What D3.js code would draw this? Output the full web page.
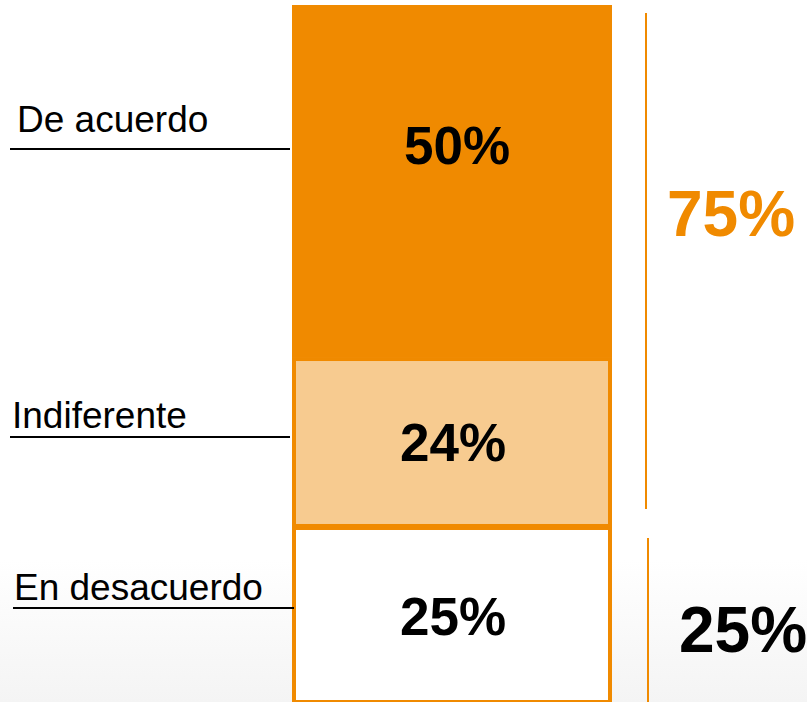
<!DOCTYPE html>
<html>
<head>
<meta charset="utf-8">
<script src="https://cdn.jsdelivr.net/npm/d3@7/dist/d3.min.js"></script>
<style>
  html, body { margin: 0; padding: 0; background: #fff; }
  svg { display: block; }
</style>
</head>
<body>
<div id="chart"></div>
<script>
// data, bottom to top
var categories = ["En desacuerdo", "Indiferente", "De acuerdo"];
var values = [25, 24, 50];
var groupLabels = ["25%", "75%"];
var groupRanges = [[0, 25], [25, 99]];

var W = 807, H = 702;
var orange = "#F08A00", light = "#F7CB90";
var fills = ["#ffffff", light, orange];

var svg = d3.select("#chart").append("svg")
    .attr("width", W)
    .attr("height", H)
    .style("font-family", "'Liberation Sans', Arial, sans-serif");

// faint grey fade at the bottom
var grad = svg.append("defs").append("linearGradient")
    .attr("id", "fade").attr("x1", 0).attr("y1", 0).attr("x2", 0).attr("y2", 1);
grad.append("stop").attr("offset", "0").attr("stop-color", "#ffffff");
grad.append("stop").attr("offset", "1").attr("stop-color", "#f4f4f4");
svg.append("rect").attr("x", 0).attr("y", 560).attr("width", W).attr("height", H - 560)
    .attr("fill", "url(#fade)");

var y = d3.scaleLinear().domain([0, 99]).range([H, 5]);
var x = d3.scaleBand().domain(["bar"]).range([292, 612]);

// stacked segments
var stacked = [];
var acc = 0;
values.forEach(function(v, i) {
    stacked.push({ cat: categories[i], v: v, y0: acc, y1: acc + v, i: i });
    acc += v;
});

svg.selectAll("rect.seg").data(stacked).enter().append("rect")
    .attr("class", "seg")
    .attr("x", function(d) { return d.i == 2 ? x("bar") : x("bar") + 2; })
    .attr("width", function(d) { return d.i == 2 ? x.bandwidth() : x.bandwidth() - 4; })
    .attr("y", function(d) { return d.i == 2 ? y(d.y1) : y(d.y1) + 2; })
    .attr("height", function(d) { return d.i == 2 ? y(d.y0) - y(d.y1) : y(d.y0) - y(d.y1) - 2; })
    .attr("fill", function(d) { return fills[d.i]; })
    .attr("stroke", orange)
    .attr("stroke-width", function(d) { return d.i == 2 ? 0 : 4; });

// value labels inside the bar
var valueShift = [21, 19, 0];
svg.selectAll("text.val").data(stacked).enter().append("text")
    .attr("class", "val")
    .attr("x", function(d) { return x("bar") + x.bandwidth() / 2 + (d.i == 2 ? 5 : 1); })
    .attr("y", function(d) {
        if (d.i == 2) return y(d.y1) + 159;
        return (y(d.y0) + y(d.y1)) / 2 + valueShift[d.i];
    })
    .attr("text-anchor", "middle")
    .attr("font-weight", "bold")
    .attr("font-size", 53)
    .attr("fill", "#000")
    .text(function(d) { return d.v + "%"; });

// category labels with underline on the left
var labelX = [14, 12, 17];
var lineX = [[13, 294], [10, 290], [10, 290]];
var lineOff = [82, 80, 144];
var textGap = [8, 9, 17];
stacked.forEach(function(d) {
    var ly = y(d.y1) + lineOff[d.i];
    svg.append("line")
        .attr("x1", lineX[d.i][0]).attr("x2", lineX[d.i][1])
        .attr("y1", ly).attr("y2", ly)
        .attr("stroke", "#000").attr("stroke-width", 2);
    svg.append("text")
        .attr("x", labelX[d.i])
        .attr("y", ly - textGap[d.i])
        .attr("font-size", 37)
        .attr("fill", "#000")
        .text(d.cat);
});

// brackets on the right
var brX = [648, 646];
var brInset = [[0, 12], [17, 8]];
groupRanges.forEach(function(r, i) {
    svg.append("line")
        .attr("x1", brX[i]).attr("x2", brX[i])
        .attr("y1", y(r[0]) - brInset[i][0])
        .attr("y2", y(r[1]) + brInset[i][1])
        .attr("stroke", orange).attr("stroke-width", 2);
});

svg.append("text")
    .attr("x", 731).attr("y", 236)
    .attr("text-anchor", "middle")
    .attr("font-weight", "bold").attr("font-size", 64)
    .attr("fill", orange)
    .text(groupLabels[1]);

svg.append("text")
    .attr("x", 743).attr("y", 652)
    .attr("text-anchor", "middle")
    .attr("font-weight", "bold").attr("font-size", 64)
    .attr("fill", "#000")
    .text(groupLabels[0]);
</script>
</body>
</html>
